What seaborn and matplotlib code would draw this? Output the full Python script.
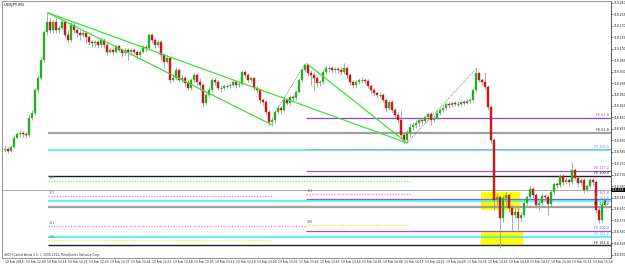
import numpy as np
import pandas as pd
import seaborn as sns
import matplotlib.pyplot as plt
import matplotlib.transforms as mtransforms
from matplotlib.patches import Rectangle

sns.set_theme(style="white")
plt.rcParams['font.family'] = ['DejaVu Sans']

symbol = "USDJPY,M1"
footer = "#NCH Cancel Arrow 4.0, \u00a9 2006-2014, MetaQuotes Software Corp."

# M1 candles (prices)
first_open = 118.790
closes = [
    118.794, 118.787, 118.800, 118.827, 118.839, 118.842, 118.839, 118.836, 118.888, 118.904,
    118.974, 119.011, 119.066, 119.151, 119.182, 119.157, 119.182, 119.157, 119.163, 119.182,
    119.142, 119.127, 119.173, 119.157, 119.148, 119.142, 119.148, 119.136, 119.121, 119.118,
    119.121, 119.111, 119.127, 119.111, 119.090, 119.096, 119.090, 119.108, 119.096, 119.087,
    119.096, 119.090, 119.096, 119.090, 119.081, 119.090, 119.105, 119.102, 119.142, 119.127,
    119.111, 119.121, 119.081, 119.059, 119.072, 119.004, 119.011, 119.035, 119.004, 119.011,
    118.995, 118.980, 119.004, 119.020, 118.998, 118.989, 118.934, 118.959, 118.974, 119.004,
    118.998, 118.980, 118.980, 118.986, 118.986, 118.989, 118.998, 118.989, 118.992, 119.029,
    119.020, 119.004, 119.011, 118.980, 118.974, 118.943, 118.937, 118.907, 118.876, 118.882,
    118.907, 118.919, 118.913, 118.943, 118.934, 118.952, 118.949, 118.968, 119.004, 119.035,
    119.050, 119.026, 119.020, 119.011, 118.995, 118.998, 119.029, 119.041, 119.041, 119.035,
    119.038, 119.035, 119.029, 119.041, 119.020, 118.998, 118.989, 118.998, 119.004, 119.004,
    119.001, 118.986, 118.974, 118.965, 118.959, 118.959, 118.943, 118.919, 118.937, 118.913,
    118.897, 118.882, 118.836, 118.821, 118.842, 118.861, 118.867, 118.873, 118.882, 118.879,
    118.891, 118.901, 118.882, 118.888, 118.904, 118.913, 118.919, 118.931, 118.928, 118.934,
    118.931, 118.931, 118.937, 118.934, 118.940, 118.943, 118.974, 119.026, 119.004, 118.998,
    118.983, 118.922, 118.821, 118.638, 118.647, 118.583, 118.644, 118.653, 118.613, 118.592,
    118.601, 118.583, 118.592, 118.628, 118.647, 118.671, 118.653, 118.622, 118.628, 118.650,
    118.647, 118.625, 118.662, 118.687, 118.683, 118.711, 118.693, 118.699, 118.693, 118.729,
    118.705, 118.690, 118.699, 118.668, 118.680, 118.699, 118.693, 118.607, 118.577, 118.622,
    118.638,
]
highs = [
    118.806, 118.800, 118.806, 118.836, 118.845, 118.852, 118.849, 118.845, 118.897, 118.913,
    118.980, 119.020, 119.075, 119.157, 119.209, 119.194, 119.188, 119.194, 119.173, 119.188,
    119.188, 119.157, 119.182, 119.182, 119.163, 119.157, 119.157, 119.151, 119.142, 119.127,
    119.127, 119.127, 119.136, 119.133, 119.118, 119.105, 119.102, 119.111, 119.111, 119.102,
    119.102, 119.102, 119.102, 119.102, 119.096, 119.096, 119.111, 119.111, 119.148, 119.148,
    119.133, 119.127, 119.127, 119.087, 119.081, 119.075, 119.020, 119.044, 119.041, 119.020,
    119.017, 119.004, 119.011, 119.026, 119.026, 119.011, 118.995, 118.965, 118.983, 119.011,
    119.011, 119.004, 118.989, 118.992, 118.995, 118.995, 119.004, 119.004, 118.998, 119.035,
    119.035, 119.026, 119.017, 119.014, 118.986, 118.980, 118.949, 118.943, 118.913, 118.891,
    118.913, 118.928, 118.928, 118.949, 118.949, 118.959, 118.959, 118.974, 119.011, 119.041,
    119.056, 119.053, 119.035, 119.029, 119.017, 119.004, 119.035, 119.050, 119.047, 119.047,
    119.044, 119.044, 119.044, 119.056, 119.047, 119.026, 119.004, 119.004, 119.011, 119.014,
    119.011, 119.008, 118.992, 118.980, 118.971, 118.968, 118.965, 118.949, 118.943, 118.943,
    118.919, 118.907, 118.913, 118.845, 118.852, 118.873, 118.876, 118.882, 118.888, 118.888,
    118.897, 118.907, 118.907, 118.897, 118.913, 118.919, 118.928, 118.937, 118.937, 118.940,
    118.940, 118.940, 118.943, 118.943, 118.946, 118.949, 118.980, 119.041, 119.029, 119.011,
    119.029, 118.989, 118.928, 118.827, 118.659, 118.653, 118.653, 118.662, 118.659, 118.622,
    118.613, 118.613, 118.601, 118.638, 118.653, 118.680, 118.677, 118.659, 118.638, 118.659,
    118.656, 118.653, 118.668, 118.693, 118.693, 118.717, 118.717, 118.708, 118.705, 118.754,
    118.735, 118.711, 118.705, 118.705, 118.687, 118.705, 118.705, 118.699, 118.616, 118.628,
    118.644,
]
lows = [
    118.784, 118.781, 118.784, 118.797, 118.827, 118.830, 118.830, 118.827, 118.830, 118.882,
    118.897, 118.968, 119.004, 119.059, 119.142, 119.148, 119.148, 119.148, 119.148, 119.157,
    119.136, 119.118, 119.121, 119.148, 119.136, 119.127, 119.136, 119.118, 119.111, 119.105,
    119.105, 119.102, 119.105, 119.102, 119.081, 119.087, 119.081, 119.087, 119.090, 119.075,
    119.081, 119.066, 119.081, 119.081, 119.072, 119.075, 119.087, 119.090, 119.096, 119.118,
    119.102, 119.105, 119.066, 119.044, 119.056, 118.995, 118.998, 119.004, 118.998, 118.998,
    118.986, 118.974, 118.974, 118.998, 118.989, 118.974, 118.922, 118.928, 118.952, 118.968,
    118.989, 118.974, 118.968, 118.974, 118.980, 118.980, 118.983, 118.980, 118.983, 118.989,
    119.011, 118.998, 118.998, 118.974, 118.965, 118.934, 118.928, 118.897, 118.867, 118.864,
    118.873, 118.901, 118.904, 118.907, 118.928, 118.928, 118.940, 118.943, 118.965, 118.998,
    119.029, 119.017, 118.989, 118.974, 118.983, 118.986, 118.992, 119.023, 119.029, 119.026,
    119.029, 119.026, 119.020, 119.023, 119.011, 118.989, 118.980, 118.983, 118.992, 118.995,
    118.992, 118.980, 118.965, 118.956, 118.952, 118.949, 118.937, 118.907, 118.913, 118.904,
    118.888, 118.873, 118.827, 118.812, 118.815, 118.830, 118.852, 118.858, 118.864, 118.870,
    118.873, 118.885, 118.867, 118.876, 118.882, 118.897, 118.907, 118.913, 118.919, 118.922,
    118.925, 118.922, 118.925, 118.928, 118.931, 118.934, 118.937, 118.968, 118.998, 118.989,
    118.977, 118.913, 118.812, 118.607, 118.622, 118.491, 118.570, 118.622, 118.601, 118.546,
    118.583, 118.546, 118.570, 118.586, 118.622, 118.641, 118.644, 118.613, 118.607, 118.622,
    118.638, 118.592, 118.619, 118.656, 118.674, 118.677, 118.683, 118.687, 118.683, 118.687,
    118.699, 118.677, 118.683, 118.659, 118.662, 118.674, 118.683, 118.598, 118.567, 118.570,
    118.613,
]

time_labels = [
    "13 Feb 2015", "13 Feb 12:09", "13 Feb 12:16", "13 Feb 12:23", "13 Feb 12:30",
    "13 Feb 12:37", "13 Feb 12:44", "13 Feb 12:51", "13 Feb 12:58", "13 Feb 13:05",
    "13 Feb 13:12", "13 Feb 13:19", "13 Feb 13:26", "13 Feb 13:33", "13 Feb 13:40",
    "13 Feb 13:47", "13 Feb 13:54", "13 Feb 14:01", "13 Feb 14:08", "13 Feb 14:15",
    "13 Feb 14:22", "13 Feb 14:29", "13 Feb 14:36", "13 Feb 14:43", "13 Feb 14:50",
    "13 Feb 14:57", "13 Feb 15:04", "13 Feb 15:11", "13 Feb 15:18",
]
price_ticks = [
    119.240, 119.205, 119.170, 119.135, 119.100, 119.065, 119.030, 118.995,
    118.960, 118.925, 118.890, 118.855, 118.820, 118.785, 118.750, 118.715,
    118.680, 118.645, 118.610, 118.575, 118.540, 118.505, 118.470,
]
last_price = 118.668

# horizontal levels: price, start bar, end bar, colour, width, style
level_price = [118.888, 118.842, 118.790, 118.792, 118.727, 118.711, 118.696, 118.656,
               118.650, 118.641, 118.635, 118.616, 118.561, 118.558, 118.543, 118.525,
               118.516, 118.499]
level_start = [100.3, 14.3, 14.3, 100.3, 100.3, 14.3, 14.3, 100.3,
               14.3, 100.3, 14.3, 14.3, 100.3, 14.3, 100.3, 14.3,
               14.3, 14.3]
level_end = [202, 202, 202, 202, 202, 202, 135, 135,
             89.3, 202, 202, 202, 135, 100.3, 202, 202,
             89.3, 202]
level_color = ['#9b3fd0', '#a0a0a0', '#2ff0f0', '#a9a4f0', '#a050d8', '#202020', '#8cf060', '#f08cf0',
               '#f08cf0', '#a050d8', '#2ff0f0', '#a0a0a0', '#f0f040', '#f08cf0', '#a050d8', '#2ff0f0',
               '#f0f040', '#202020']
level_width = [0.9, 1.6, 1.1, 0.8, 0.9, 1.0, 1.0, 1.0,
               1.0, 0.9, 1.1, 1.6, 1.0, 1.0, 0.9, 1.1,
               1.0, 1.0]
level_dotted = [False, False, False, False, False, False, True, True,
                True, False, False, False, True, True, False, False,
                True, False]

fe_price = [118.888, 118.842, 118.790, 118.727, 118.711, 118.650, 118.635, 118.616, 118.543, 118.525, 118.499]
fe_text = ["FE 61.8", "FE 61.8", "FE 100.0", "FE 127.2", "FE 100.0", "FE 161.8",
           "FE 161.8", "FE 127.2", "FE 200.0", "FE 161.8", "FE 161.8"]
fe_color = ['#a050d8', '#202020', '#40a0ff', '#a050d8', '#202020', '#a050d8',
            '#2fc8e0', '#202020', '#a050d8', '#2fc8e0', '#202020']

side_text = ["317", "261", "191", "261", "298", "200"]
side_x = [14.6, 14.6, 100.6, 14.6, 100.6, 14.6]
side_price = [118.700, 118.652, 118.658, 118.560, 118.563, 118.518]

# trend lines: (bar, price) pairs
green_lines = [((14.3, 119.210), (134.0, 118.812)),
               ((14.3, 119.210), (89.0, 118.867)),
               ((100.7, 119.054), (134.0, 118.812))]
dotted_lines = [((91.0, 118.919), (100.2, 119.056)),
                ((134.0, 118.812), (157.3, 119.041))]
boxes = [((158.7, 118.607), (171.7, 118.663)),
         ((158.7, 118.497), (172.7, 118.540))]

df = pd.DataFrame({"close": closes, "high": highs, "low": lows})
df["open"] = [first_open] + closes[:-1]
df["bar"] = np.arange(len(df))
df["high"] = df[["high", "open", "close"]].max(axis=1)
df["low"] = df[["low", "open", "close"]].min(axis=1)

fig = plt.figure(figsize=(6.25, 2.65), dpi=100)
ax = fig.add_axes([2 / 625, 7 / 265, 609 / 625, 257 / 265])
ax.set_facecolor('white')

for (x0, y0), (x1, y1) in boxes:
    ax.add_patch(Rectangle((x0, y0), x1 - x0, y1 - y0, color='#ffff00', lw=0, zorder=1))

for p, s, e, c, w, d in zip(level_price, level_start, level_end, level_color, level_width, level_dotted):
    ax.hlines(p, s, e, colors=c, lw=w, linestyles=(0, (1, 1)) if d else '-', zorder=2)
ax.axhline(last_price, color='#a8a8a8', lw=0.7, zorder=2)

ax.vlines(df["bar"], df["low"], df["high"], color='#9a9a9a', lw=0.6, zorder=3)
up = df[df.close > df.open]
dn = df[df.close < df.open]
fl = df[df.close == df.open]
ax.bar(up["bar"], up["close"] - up["open"], bottom=up["open"], width=0.72,
       color='#1f9f1f', edgecolor='#3be03b', lw=0.3, zorder=4)
ax.bar(dn["bar"], dn["open"] - dn["close"], bottom=dn["close"], width=0.72,
       color='#c41a1a', edgecolor='#c41a1a', lw=0.3, zorder=4)
ax.hlines(fl["close"], fl["bar"] - 0.4, fl["bar"] + 0.4, colors='#606060', lw=0.7, zorder=4)

for (x0, y0), (x1, y1) in green_lines:
    sns.lineplot(x=[x0, x1], y=[y0, y1], ax=ax, color='#3ee03e', lw=0.9, sort=False, zorder=5)
for (x0, y0), (x1, y1) in dotted_lines:
    sns.lineplot(x=[x0, x1], y=[y0, y1], ax=ax, color='#8a8a8a', lw=0.7, sort=False,
                 linestyle=(0, (1, 1)), zorder=5)

for p, t, c in zip(fe_price, fe_text, fe_color):
    ax.text(201.3, p + 0.002, t, fontsize=2.4, color=c, ha='right', va='bottom', zorder=6)
for t, x, p in zip(side_text, side_x, side_price):
    ax.text(x, p, t, fontsize=2.4, color='#707070', ha='left', va='bottom', zorder=6)

ax.text(0.003, 0.992, symbol, transform=ax.transAxes, fontsize=2.8, color='black', va='top')
ax.text(0.004, 0.004, footer, transform=ax.transAxes, fontsize=2.1, color='#303030', va='bottom')

ax.set_xlim(-1, 202)
ax.set_ylim(118.460, 119.246)
ax.set_xticks(range(0, len(df), 7)[:len(time_labels)])
ax.set_xticklabels(time_labels, fontsize=2.2, ha='left')
ax.yaxis.tick_right()
ax.set_yticks(price_ticks)
ax.set_yticklabels([f"{v:.3f}" for v in price_ticks], fontsize=2.2)
ax.tick_params(axis='both', length=1.2, width=0.4, pad=0.4, colors='#202020')
ax.tick_params(axis='x', pad=0.2)
ax.set_xlabel("")
ax.set_ylabel("")
for side, sp in ax.spines.items():
    sp.set_color('#808080')
    sp.set_linewidth(0.6)
    sp.set_visible(True)
ax.spines['right'].set_color('#404040')

trans = mtransforms.blended_transform_factory(ax.transAxes, ax.transData)
ax.text(1.0015, last_price, f"{last_price:.3f}", transform=trans, fontsize=2.2, color='white',
        va='center', ha='left', zorder=7,
        bbox=dict(facecolor='black', edgecolor='none', pad=0.3))

fig.savefig("out.png", dpi=100)
